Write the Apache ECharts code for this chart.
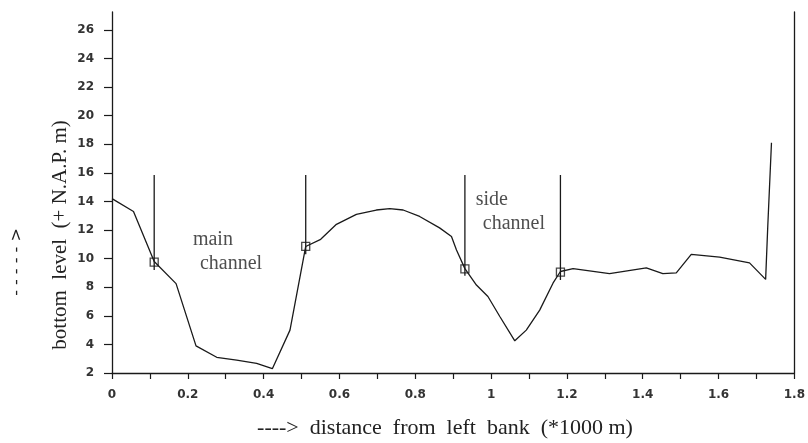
<!DOCTYPE html>
<html>
<head>
<meta charset="utf-8">
<script src="https://cdn.jsdelivr.net/npm/echarts@6/dist/echarts.min.js"></script>
<style>
  html, body { margin: 0; padding: 0; background: #fff; }
  #chart { width: 808px; height: 443px; }
</style>
</head>
<body>
<div id="chart"></div>
<script>
// Cross-section profile of the river bed
const distance = [0, 0.0567, 0.1113, 0.169, 0.2216, 0.2762, 0.3289, 0.3815, 0.423, 0.4695,
  0.511, 0.5505, 0.592, 0.6446, 0.6972, 0.7326, 0.768, 0.8115, 0.8641, 0.8955,
  0.9087, 0.9309, 0.9613, 0.9916, 1.023, 1.0625, 1.0928, 1.1282, 1.1636, 1.1829,
  1.2163, 1.3124, 1.4095, 1.453, 1.4885, 1.528, 1.6028, 1.6817, 1.7242, 1.7298, 1.7396];
const level = [14.2, 13.3, 9.8, 8.25, 3.9, 3.1, 2.9, 2.68, 2.3, 5.0,
  10.85, 11.35, 12.4, 13.1, 13.4, 13.5, 13.4, 12.95, 12.15, 11.55,
  10.6, 9.3, 8.15, 7.35, 5.95, 4.25, 5.0, 6.4, 8.3, 9.1,
  9.3, 8.95, 9.35, 8.95, 9.0, 10.3, 10.1, 9.7, 8.55, 12.25, 18.1];

// Measuring sections (position and bed level) and the extent of their verticals
const sectionDist = [0.1113, 0.511, 0.9309, 1.1829];
const sectionLevel = [9.75, 10.85, 9.28, 9.05];
const sectionTop = 15.85;
const sectionBottom = [9.2, 10.3, 8.8, 8.5];

// Channel annotations
const notes = [
  { text: 'main', x: 0.2135, y: 11.3 },
  { text: 'channel', x: 0.232, y: 9.65 },
  { text: 'side', x: 0.9594, y: 14.1 },
  { text: 'channel', x: 0.978, y: 12.45 }
];

// Axis ticks and labels
const xTicks = [0, 0.1, 0.2, 0.3, 0.4, 0.5, 0.6, 0.7, 0.8, 0.9, 1.0, 1.1, 1.2, 1.3, 1.4, 1.5, 1.6, 1.7, 1.8];
const xLabels = [0, 0.2, 0.4, 0.6, 0.8, 1.0, 1.2, 1.4, 1.6, 1.8];
const yTicks = [2, 4, 6, 8, 10, 12, 14, 16, 18, 20, 22, 24, 26];

const ink = '#1a1a1a';
const serif = '"Liberation Serif", "DejaVu Serif", serif';
const sans = '"DejaVu Sans", sans-serif';

const chart = echarts.init(document.getElementById('chart'), null, { renderer: 'canvas' });

const sectionSeries = sectionDist.map((d, i) => ({
  type: 'line',
  data: [[d, sectionTop], [d, sectionBottom[i]]],
  symbol: 'none',
  silent: true,
  lineStyle: { color: ink, width: 1.3 },
  z: 3
}));

chart.setOption({
  animation: false,
  backgroundColor: '#fff',
  grid: { left: 112, right: 13, top: 12, bottom: 70, containLabel: false },
  xAxis: {
    type: 'value',
    min: 0,
    max: 1.8,
    interval: 0.1,
    axisLine: { show: true, onZero: false, lineStyle: { color: ink, width: 1.3 } },
    axisTick: { show: true, customValues: xTicks, length: 6, inside: false, lineStyle: { color: ink, width: 1.2 } },
    axisLabel: {
      customValues: xLabels,
      margin: 16,
      color: '#333',
      fontFamily: sans,
      fontWeight: 'bold',
      fontSize: 12,
      formatter: v => String(Math.round(v * 10) / 10)
    },
    splitLine: { show: false }
  },
  yAxis: [{
    type: 'value',
    min: 2,
    max: 27.25,
    interval: 2,
    axisLine: { show: true, onZero: false, lineStyle: { color: ink, width: 1.3 } },
    axisTick: { show: true, customValues: yTicks, length: 8, lineStyle: { color: ink, width: 1.2 } },
    axisLabel: { customValues: yTicks, margin: 18, color: '#333', fontFamily: sans, fontWeight: 'bold', fontSize: 12 },
    splitLine: { show: false }
  }, {
    type: 'value',
    position: 'right',
    min: 2,
    max: 27.25,
    axisLine: { show: true, onZero: false, lineStyle: { color: ink, width: 1.3 } },
    axisTick: { show: false },
    axisLabel: { show: false },
    splitLine: { show: false }
  }],
  series: [
    {
      type: 'line',
      data: distance.map((d, i) => [d, level[i]]),
      symbol: 'none',
      smooth: false,
      lineStyle: { color: ink, width: 1.3 },
      z: 4
    },
    ...sectionSeries,
    {
      type: 'scatter',
      data: sectionDist.map((d, i) => [d, sectionLevel[i]]),
      symbol: 'rect',
      symbolSize: 8,
      itemStyle: { color: 'rgba(255,255,255,0)', borderColor: ink, borderWidth: 1.3 },
      z: 5
    },
    {
      type: 'scatter',
      data: notes.map(n => ({ value: [n.x, n.y], name: n.text })),
      symbolSize: 0,
      silent: true,
      label: {
        show: true,
        formatter: p => p.name,
        position: [0, 0],
        align: 'left',
        verticalAlign: 'middle',
        color: '#222',
        fontFamily: serif,
        fontSize: 20
      }
    }
  ],
  graphic: [
    {
      type: 'text',
      x: 445,
      y: 428,
      style: { text: '---->  distance  from  left  bank  (*1000 m)', fontFamily: serif, fontSize: 22, fill: '#222', align: 'center', verticalAlign: 'middle' }
    },
    {
      type: 'text',
      x: 60,
      y: 235,
      rotation: Math.PI / 2,
      style: { text: 'bottom  level  (+ N.A.P. m)', fontFamily: serif, fontSize: 21, fill: '#222', align: 'center', verticalAlign: 'middle' }
    },
    {
      type: 'text',
      x: 17,
      y: 262,
      rotation: Math.PI / 2,
      style: { text: '- - - - - >', fontFamily: sans, fontSize: 16, fill: '#222', align: 'center', verticalAlign: 'middle' }
    }
  ]
});
</script>
</body>
</html>
